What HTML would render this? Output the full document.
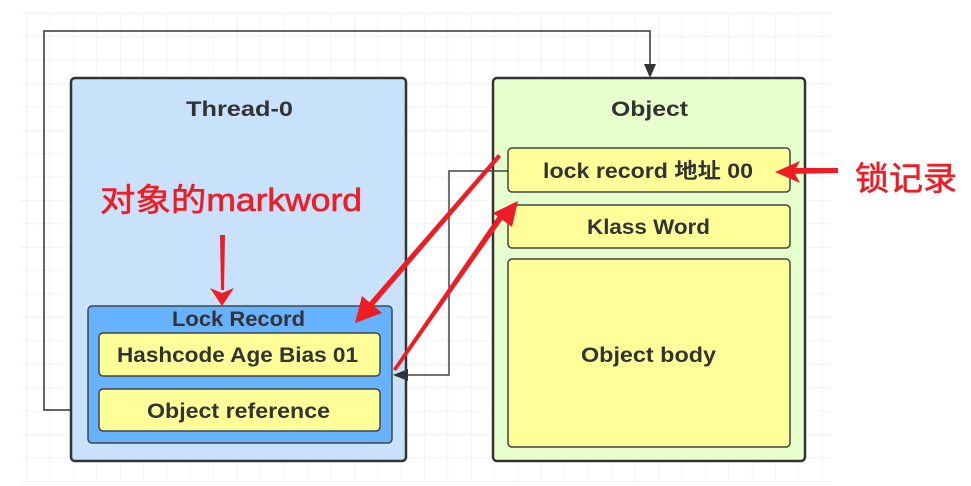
<!DOCTYPE html>
<html><head><meta charset="utf-8"><style>
html,body{margin:0;padding:0;background:#fff;}
svg{display:block;}
text{font-family:"Liberation Sans","Noto Sans CJK SC",sans-serif;}
</style></head><body>
<svg width="971" height="486" viewBox="0 0 971 486" xmlns="http://www.w3.org/2000/svg">
<defs>
<pattern id="g" x="3" y="13" width="23.4" height="23.4" patternUnits="userSpaceOnUse">
<path d="M0 0H23.4M0 0V23.4" stroke="#e8e8e8" stroke-width="1" fill="none"/>
</pattern>
</defs>
<rect x="20" y="13" width="812" height="470" fill="url(#g)"/>
<path d="M98 410H44V31H650V70" fill="none" stroke="#333" stroke-width="1.5"/>
<path d="M644 64L650 78L656 64Z" fill="#333"/>
<rect x="71" y="78" width="335" height="383" rx="4" fill="#c9e2fb" stroke="#333" stroke-width="2.5"/>
<text x="186" y="116" textLength="107" lengthAdjust="spacingAndGlyphs" font-size="21" font-weight="bold" fill="#333">Thread-0</text>
<rect x="493" y="78" width="312" height="383" rx="4" fill="#e6ffcc" stroke="#333" stroke-width="2.5"/>
<text x="611" y="116" textLength="77" lengthAdjust="spacingAndGlyphs" font-size="21" font-weight="bold" fill="#333">Object</text>
<rect x="88" y="306" width="304" height="137" rx="4" fill="#66b2ff" stroke="#444" stroke-width="1.5"/>
<text x="172" y="326" textLength="133" lengthAdjust="spacingAndGlyphs" font-size="21" font-weight="bold" fill="#333">Lock Record</text>
<rect x="99" y="333" width="281" height="43" rx="4" fill="#ffff99" stroke="#444" stroke-width="1.5"/>
<text x="117" y="362" textLength="241" lengthAdjust="spacingAndGlyphs" font-size="21" font-weight="bold" fill="#333">Hashcode Age Bias 01</text>
<rect x="99" y="389" width="281" height="42" rx="4" fill="#ffff99" stroke="#444" stroke-width="1.5"/>
<text x="147" y="418" textLength="183" lengthAdjust="spacingAndGlyphs" font-size="21" font-weight="bold" fill="#333">Object reference</text>
<rect x="508" y="148" width="282" height="44" rx="4" fill="#ffff99" stroke="#444" stroke-width="1.5"/>
<text x="543" y="178" textLength="210" lengthAdjust="spacingAndGlyphs" font-size="21" font-weight="bold" fill="#333">lock  record 地址 00</text>
<rect x="508" y="205" width="282" height="43" rx="4" fill="#ffff99" stroke="#444" stroke-width="1.5"/>
<text x="587" y="234" textLength="123" lengthAdjust="spacingAndGlyphs" font-size="21" font-weight="bold" fill="#333">Klass Word</text>
<rect x="508" y="259" width="282" height="188" rx="4" fill="#ffff99" stroke="#444" stroke-width="1.5"/>
<text x="581" y="362" textLength="135" lengthAdjust="spacingAndGlyphs" font-size="21" font-weight="bold" fill="#333">Object body</text>
<path d="M508 171H449V375H402" fill="none" stroke="#444" stroke-width="1.5"/>
<path d="M393 375L408 369L408 381Z" fill="#333"/>
<g fill="#ee1c25" stroke="none">
<path d="M498 154L501 157L370 310L366 306Z"/>
<path d="M355 323L362 296L382 313Z"/>
<path d="M393 369L396 371L505 216L500 213Z"/>
<path d="M518 201L493 213L512 227Z"/>
<path d="M838 168L838 173L790 174L790 168Z"/>
<path d="M775 172L800 161L794 172L800 183Z"/>
<path d="M220 235L225 235L224 290L221 290Z"/>
<path d="M222 306L210 288L222 293L234 288Z"/>
</g>
<text x="100" y="211" textLength="262" lengthAdjust="spacingAndGlyphs" font-size="32" fill="#ee1c25" stroke="#ee1c25" stroke-width="0.6">对象的markword</text>
<text x="855" y="190" textLength="102" lengthAdjust="spacingAndGlyphs" font-size="33" fill="#ee1c25" stroke="#ee1c25" stroke-width="0.6">锁记录</text>
</svg>
</body></html>
